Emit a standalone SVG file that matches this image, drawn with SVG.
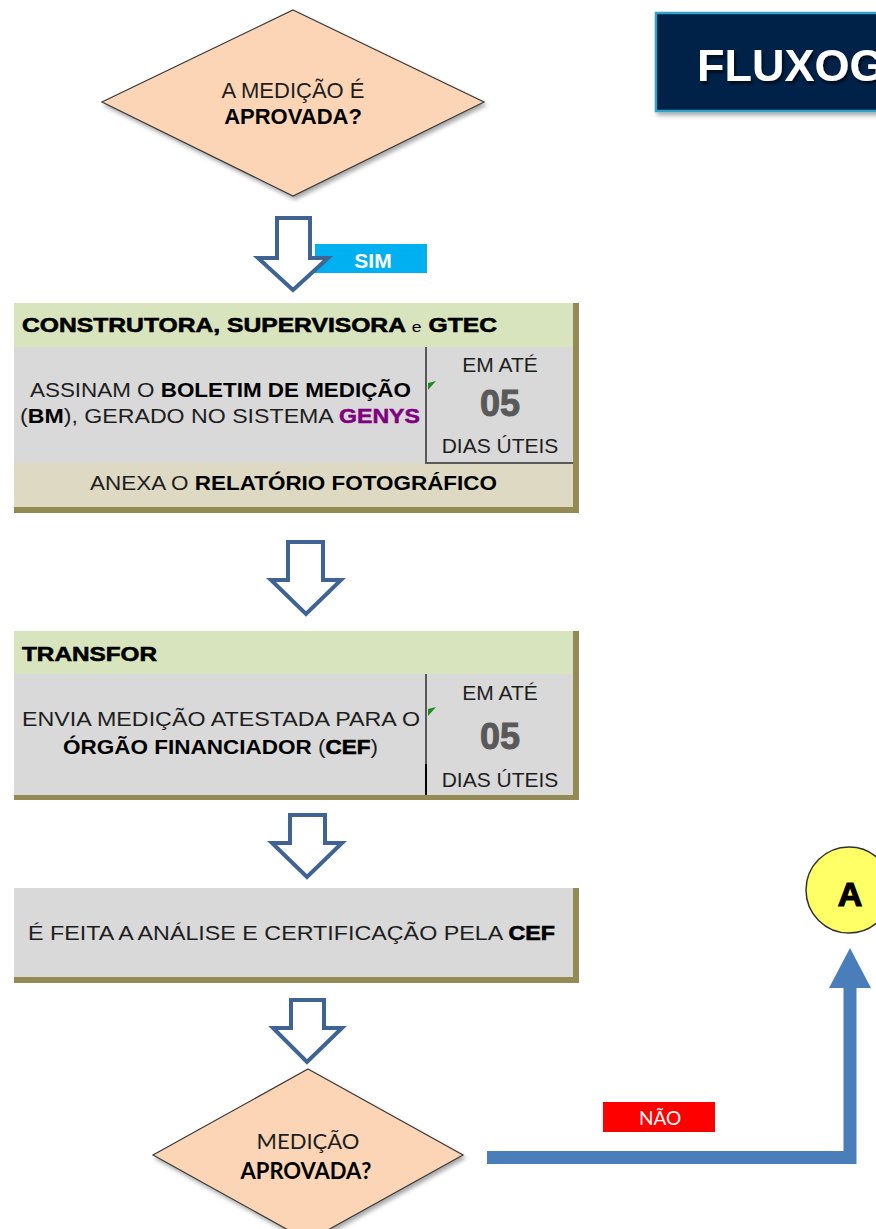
<svg xmlns="http://www.w3.org/2000/svg" width="876" height="1229" viewBox="0 0 876 1229">
<defs>
<filter id="sh" x="-10%" y="-10%" width="130%" height="130%">
<feDropShadow dx="2" dy="3" stdDeviation="2" flood-color="#000" flood-opacity="0.35"/>
</filter>
<filter id="tsh" x="-10%" y="-10%" width="130%" height="140%">
<feDropShadow dx="2" dy="3" stdDeviation="1.5" flood-color="#000" flood-opacity="0.6"/>
</filter>
<style>
text{font-family:"Liberation Sans",Arial,sans-serif;fill:#1E1E1E;}
.b{font-weight:bold;fill:#000;}
.hv{font-weight:bold;fill:#000;stroke:#000;stroke-width:0.6;}
.hdr{font-size:21px;font-weight:bold;fill:#000;stroke:#000;stroke-width:0.6;}
.body{font-size:21px;}
.num{font-size:36px;font-weight:bold;fill:#595959;stroke:#595959;stroke-width:1;}
.cal{font-family:Lato,"Liberation Sans",sans-serif;}
.hollow{fill:#fff;stroke:#3F6494;stroke-width:4;stroke-linejoin:miter;}
.diam{fill:#FBD5B5;stroke:#3A3A3A;stroke-width:1.2;}
.green{fill:#D7E4BD;}
.gray{fill:#D9D9D9;}
.beige{fill:#DDD9C3;}
.olive{fill:#948A54;}
.tri{fill:#1E8C1E;}
</style>
</defs>

<g id="title">
<rect x="656" y="13" width="240" height="98" fill="#00234A" stroke="#31A3C4" stroke-width="2.5" filter="url(#sh)"/>
<text x="697" y="81" style="font-size:45px;font-weight:bold;fill:#fff" filter="url(#tsh)">FLUXOG</text>
</g>

<g id="decision1">
<polygon class="diam" points="293,10 484,102 293,196 102,102" filter="url(#sh)"/>
<text x="293" y="98" class="body" style="font-size:22px" text-anchor="middle">A MEDIÇÃO  É</text>
<text x="293" y="124" class="b" style="font-size:22px" text-anchor="middle">APROVADA?</text>
</g>

<g id="sim-label">
<rect x="315" y="244" width="112" height="29" fill="#00B0F0"/>
<text x="373" y="268" text-anchor="middle" style="font-size:21px;font-weight:bold;fill:#fff">SIM</text>
</g>

<g id="box1">
<rect class="green" x="14" y="303" width="559" height="44"/>
<rect class="gray" x="14" y="347" width="559" height="116"/>
<rect class="beige" x="14" y="463" width="559" height="44"/>
<rect class="olive" x="573" y="303" width="6" height="210"/>
<rect class="olive" x="14" y="507" width="565" height="6"/>
<line x1="426" y1="347" x2="426" y2="464" stroke="#595959" stroke-width="2"/>
<line x1="425" y1="463" x2="573" y2="463" stroke="#595959" stroke-width="2"/>
<polygon class="tri" points="428,383 436,381 428,390"/>
<text x="22" y="332" class="hdr" textLength="475" lengthAdjust="spacingAndGlyphs">CONSTRUTORA, SUPERVISORA <tspan style="font-size:15px;font-weight:normal;stroke-width:0">e</tspan> GTEC</text>
<text x="30" y="397" class="body" textLength="381" lengthAdjust="spacingAndGlyphs">ASSINAM O <tspan class="b">BOLETIM DE MEDIÇÃO</tspan></text>
<text x="20" y="423" class="body" textLength="400" lengthAdjust="spacingAndGlyphs">(<tspan class="b">BM</tspan>), GERADO NO SISTEMA <tspan style="font-weight:bold;fill:#800080;stroke:#800080;stroke-width:0.5">GENYS</tspan></text>
<text x="500" y="372" class="body" text-anchor="middle">EM ATÉ</text>
<text x="500" y="416" class="num" text-anchor="middle">05</text>
<text x="500" y="453" class="body" text-anchor="middle">DIAS ÚTEIS</text>
<text x="90" y="490" class="body" textLength="407" lengthAdjust="spacingAndGlyphs">ANEXA O <tspan class="b">RELATÓRIO FOTOGRÁFICO</tspan></text>
</g>

<g id="box2">
<rect class="green" x="14" y="631" width="559" height="43"/>
<rect class="gray" x="14" y="674" width="559" height="121"/>
<rect class="olive" x="573" y="631" width="6" height="169"/>
<rect class="olive" x="14" y="795" width="565" height="5"/>
<line x1="426" y1="674" x2="426" y2="764" stroke="#595959" stroke-width="2"/>
<line x1="426" y1="764" x2="426" y2="795" stroke="#000" stroke-width="2"/>
<polygon class="tri" points="428,709 436,707 428,716"/>
<text x="22" y="661" class="hdr" textLength="135" lengthAdjust="spacingAndGlyphs">TRANSFOR</text>
<text x="22" y="726" class="body" textLength="398" lengthAdjust="spacingAndGlyphs">ENVIA MEDIÇÃO ATESTADA PARA O</text>
<text x="63" y="754" class="body" textLength="315" lengthAdjust="spacingAndGlyphs"><tspan class="b">ÓRGÃO FINANCIADOR</tspan> (<tspan class="hv">CEF</tspan>)</text>
<text x="500" y="700" class="body" text-anchor="middle">EM ATÉ</text>
<text x="500" y="749" class="num" text-anchor="middle">05</text>
<text x="500" y="787" class="body" text-anchor="middle">DIAS ÚTEIS</text>
</g>

<g id="box3">
<rect class="gray" x="14" y="888" width="559" height="89"/>
<rect class="olive" x="573" y="888" width="6" height="95"/>
<rect class="olive" x="14" y="977" width="565" height="6"/>
<text x="28" y="940" class="body" textLength="527" lengthAdjust="spacingAndGlyphs">É FEITA A ANÁLISE E CERTIFICAÇÃO PELA <tspan class="hv">CEF</tspan></text>
</g>

<g id="decision2">
<polygon class="diam" points="308,1069 463,1155 308,1241 153,1155" filter="url(#sh)"/>
<text x="308" y="1149" class="cal" style="font-size:22px" text-anchor="middle">MEDIÇÃO</text>
<text x="306" y="1179" class="cal b" style="font-size:22px" text-anchor="middle">APROVADA?</text>
</g>

<g id="nao-label">
<rect x="603" y="1102" width="112" height="30" fill="#FF0000"/>
<text x="660" y="1125" class="cal" text-anchor="middle" style="font-size:19px;fill:#fff">NÃO</text>
</g>

<g id="connector-A">
<circle cx="849" cy="890" r="43" fill="#FFFF66" stroke="#333" stroke-width="1.5"/>
<text x="850" y="906" text-anchor="middle" style="font-size:34px;font-weight:bold;fill:#000;stroke:#000;stroke-width:1.2">A</text>
</g>

<g id="connectors">
<path class="hollow" d="M277,218 H310 V258 H328 L293,290 L258,258 H277 Z"/>
<path class="hollow" d="M288,542 H323 V580 H341 L306,614 L271,580 H288 Z"/>
<path class="hollow" d="M290,815 H325 V843 H342 L307,877 L272,843 H290 Z"/>
<path class="hollow" d="M291,1000 H324 V1028 H342 L307,1062 L273,1028 H291 Z"/>
<path d="M487,1157.5 H850 V985" fill="none" stroke="#4A7EBB" stroke-width="13"/>
<polygon points="829,988 871,988 850,948" fill="#4A7EBB"/>
</g>
</svg>
